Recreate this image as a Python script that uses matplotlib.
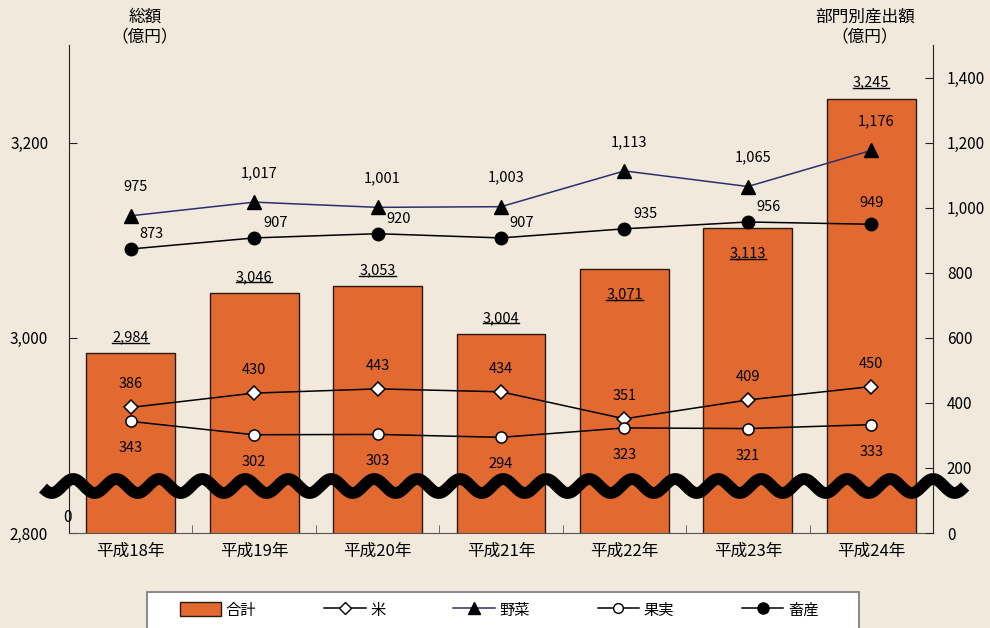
import numpy as np
import matplotlib
matplotlib.use("Agg")
import matplotlib.pyplot as plt
from matplotlib.lines import Line2D
from matplotlib.patches import Rectangle, Patch

plt.rcParams['font.family'] = ['Noto Sans CJK JP', 'DejaVu Sans']

# data
years = ["平成18年", "平成19年", "平成20年", "平成21年", "平成22年", "平成23年", "平成24年"]
total = [2984, 3046, 3053, 3004, 3071, 3113, 3245]
rice = [386, 430, 443, 434, 351, 409, 450]
veg = [975, 1017, 1001, 1003, 1113, 1065, 1176]
fruit = [343, 302, 303, 294, 323, 321, 333]
livestock = [873, 907, 920, 907, 935, 956, 949]

left_ticks = [2800, 3000, 3200]
right_ticks = [0, 200, 400, 600, 800, 1000, 1200, 1400]

W, H = 990, 628
bg = '#f1e9db'
orange = '#e2692f'
navy = '#2c2f6e'

fig = plt.figure(figsize=(W / 100, H / 100), dpi=100, facecolor=bg)


def fx(px):
    return px / W


def fy(py):
    return 1 - py / H


ax = fig.add_axes([fx(69), fy(533), fx(933) - fx(69), fy(45) - fy(533)])
ax.set_facecolor('none')
x = np.arange(len(years))

ax.bar(x, total, width=0.72, color=orange, edgecolor='#2a1a10', linewidth=1.0, zorder=2)
ax.set_ylim(2800, 3300)
ax.set_xlim(-0.5, len(years) - 0.5)
ax.set_yticks(left_ticks)
ax.set_yticklabels([f"{v:,}" for v in left_ticks], fontsize=11)
ax.tick_params(axis='y', direction='in', length=6, pad=15, color='#222')
ax.set_xticks(x)
ax.set_xticklabels(years, fontsize=12)
ax.tick_params(axis='x', which='major', length=0, pad=7)
ax.set_xticks(x[:-1] + 0.5, minor=True)
ax.tick_params(axis='x', which='minor', direction='in', length=6, color='#555')
ax.spines['top'].set_visible(False)
ax.spines['bottom'].set_color('#555')
ax.spines['left'].set_color('#222')
ax.spines['right'].set_visible(False)

# total labels (two of them sit inside the bar)
inside = {4, 5}
total_texts = []
for i, v in enumerate(total):
    off = -26 if i in inside else 16
    t = ax.annotate(f"{v:,}", (i, v), xytext=(0, off), textcoords='offset pixels',
                    ha='center', va='center', fontsize=10.5, zorder=5)
    total_texts.append(t)

ax2 = ax.twinx()
ax2.set_ylim(0, 1500)
ax2.set_yticks(right_ticks)
ax2.set_yticklabels([f"{v:,}" for v in right_ticks], fontsize=11)
ax2.tick_params(axis='y', direction='in', length=6, pad=10, color='#222')
for s in ['top', 'left', 'bottom']:
    ax2.spines[s].set_visible(False)
ax2.spines['right'].set_color('#222')

ax2.plot(x, veg, color=navy, lw=1.1, marker='^', ms=10, mfc='black', mec='black', zorder=4)
ax2.plot(x, livestock, color='black', lw=1.1, marker='o', ms=9, mfc='black', mec='black', zorder=4)
ax2.plot(x, rice, color='black', lw=1.1, marker='D', ms=7, mfc='white', mec='black', mew=1.1, zorder=4)
ax2.plot(x, fruit, color='black', lw=1.1, marker='o', ms=8, mfc='white', mec='black', mew=1.1, zorder=4)

fs = 10.5
for i, v in enumerate(veg):
    ax2.annotate(f"{v:,}", (i, v), xytext=(5, 29), textcoords='offset pixels',
                 ha='center', va='center', fontsize=fs)
for i, v in enumerate(livestock):
    off = (0, 21) if i == len(livestock) - 1 else (21, 15)
    ax2.annotate(f"{v:,}", (i, v), xytext=off, textcoords='offset pixels',
                 ha='center', va='center', fontsize=fs)
for i, v in enumerate(rice):
    ax2.annotate(f"{v:,}", (i, v), xytext=(0, 23), textcoords='offset pixels',
                 ha='center', va='center', fontsize=fs)
for i, v in enumerate(fruit):
    ax2.annotate(f"{v:,}", (i, v), xytext=(0, -27), textcoords='offset pixels',
                 ha='center', va='center', fontsize=fs)

# axis titles
fig.text(fx(145), fy(27), "総額\n（億円）", ha='center', va='center', fontsize=12, linespacing=1.25)
fig.text(fx(865), fy(27), "部門別産出額\n（億円）", ha='center', va='center', fontsize=12, linespacing=1.25)
fig.text(fx(67), fy(518), "0", ha='center', va='center', fontsize=11)

# wavy axis break
wx = np.linspace(43, 965, 800)
wy = 486 + 7 * np.sin(2 * np.pi * (wx - 43) / 43 + 0.3)
fig.add_artist(Line2D(fx(wx), fy(wy), color='black', lw=8.5, solid_capstyle='butt', zorder=10))

# legend box
fig.add_artist(Rectangle((fx(147), fy(640)), fx(859) - fx(147), fy(592) - fy(640),
                         facecolor='white', edgecolor='#777', lw=1.2, zorder=1))
handles = [
    Patch(facecolor=orange, edgecolor='#2a1a10', lw=1.0),
    Line2D([], [], color='black', lw=1.1, marker='D', ms=6, mfc='white', mec='black'),
    Line2D([], [], color=navy, lw=1.1, marker='^', ms=9, mfc='black', mec='black'),
    Line2D([], [], color='black', lw=1.1, marker='o', ms=7, mfc='white', mec='black'),
    Line2D([], [], color='black', lw=1.1, marker='o', ms=8, mfc='black', mec='black'),
]
labels = ["合計", "米", "野菜", "果実", "畜産"]
leg = fig.legend(handles, labels, ncol=5, loc='center left', bbox_to_anchor=(fx(180), fy(610)),
                 frameon=False, fontsize=11, handlelength=2.7, handleheight=1.0,
                 handletextpad=0.3, columnspacing=4.45, borderpad=0, borderaxespad=0)
leg.set_zorder(11)

# underline the total labels
fig.canvas.draw()
r = fig.canvas.get_renderer()
inv = fig.transFigure.inverted()
for t in total_texts:
    bb = t.get_window_extent(r).transformed(inv)
    yy = bb.y0 + 1.5 / H
    fig.add_artist(Line2D([bb.x0, bb.x1], [yy, yy], color='black', lw=1.0, zorder=6))

fig.savefig("out.png", dpi=100, facecolor=bg)
